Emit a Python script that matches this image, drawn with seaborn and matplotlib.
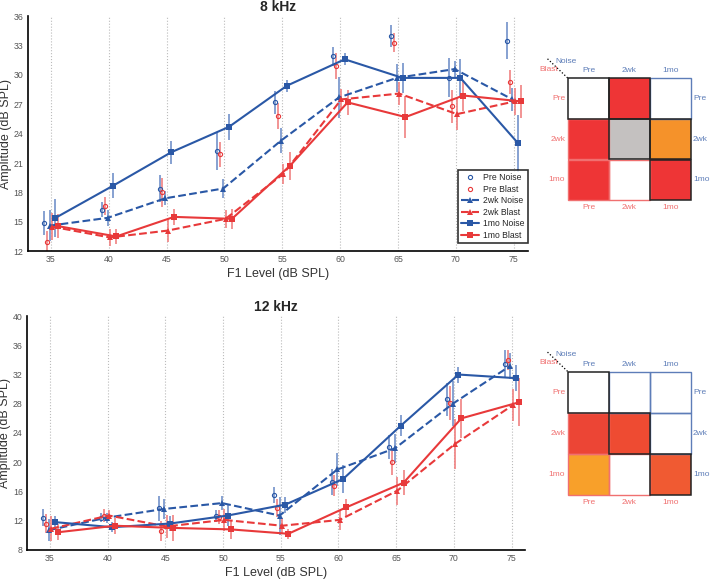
import numpy as np
import pandas as pd
import matplotlib
matplotlib.use("Agg")
import matplotlib.pyplot as plt
import seaborn as sns
from matplotlib.colors import ListedColormap, BoundaryNorm
from matplotlib.patches import Rectangle

# ---------------- data ----------------
levels = [35, 40, 45, 50, 55, 60, 65, 70, 75]
series_names = ["Pre Noise", "Pre Blast", "2wk Noise", "2wk Blast", "1mo Noise", "1mo Blast"]

# 8 kHz
k8_pre_noise = [14.9, 16.25, 18.4, 22.2, 27.2, 31.9, 34.0, 29.7, 33.5]
k8_pre_blast = [12.9, 16.6, 18.0, 21.9, 25.8, 30.9, 33.3, 26.8, 29.3]
k8_2wk_noise = [14.6, 15.4, 17.4, 18.4, 23.3, 27.7, 29.7, 30.6, 27.5]
k8_2wk_blast = [14.5, 13.4, 14.1, 15.3, 19.9, 27.5, 28.1, 26.0, 27.3]
k8_1mo_noise = [15.4, 18.7, 22.1, 24.7, 28.9, 31.6, 29.7, 29.7, 23.0]
k8_1mo_blast = [14.55, 13.5, 15.5, 15.3, 20.7, 27.2, 25.7, 27.9, 27.3]
k8_pre_noise_err = [1.2, 0.75, 1.4, 1.9, 1.15, 1.0, 1.1, 2.0, 1.9]
k8_pre_blast_err = [1.2, 0.9, 1.45, 1.3, 1.3, 1.3, 1.0, 1.7, 1.2]
k8_2wk_noise_err = [1.6, 0.8, 0.7, 1.0, 1.3, 2.1, 1.4, 0.85, 1.2]
k8_2wk_blast_err = [1.4, 0.85, 1.2, 0.9, 1.0, 1.1, 1.2, 1.6, 1.4]
k8_1mo_noise_err = [1.95, 1.3, 1.2, 1.35, 0.6, 0.6, 1.5, 1.95, 2.9]
k8_1mo_blast_err = [1.2, 0.75, 0.85, 1.0, 1.45, 1.3, 2.15, 1.6, 1.7]

# 12 kHz
k12_pre_noise = [12.4, 12.4, 13.7, 12.6, 15.5, 17.3, 22.1, 28.6, 33.5]
k12_pre_blast = [11.6, 12.7, 10.6, 12.5, 13.7, 16.8, 20.0, 28.1, 34.0]
k12_2wk_noise = [10.7, 12.4, 13.6, 14.4, 12.7, 19.0, 21.9, 28.0, 33.2]
k12_2wk_blast = [10.9, 12.7, 11.2, 12.1, 11.3, 12.1, 16.1, 22.5, 27.8]
k12_1mo_noise = [11.8, 11.1, 11.6, 12.7, 14.2, 17.7, 25.0, 32.0, 31.5]
k12_1mo_blast = [10.4, 11.3, 11.0, 10.8, 10.2, 13.8, 17.2, 26.0, 28.2]
k12_pre_noise_err = [1.2, 0.65, 1.7, 0.8, 1.1, 1.8, 1.6, 2.3, 1.9]
k12_pre_blast_err = [1.3, 0.9, 1.4, 0.95, 1.25, 1.4, 1.7, 2.3, 1.4]
k12_2wk_noise_err = [1.5, 0.7, 1.4, 1.0, 2.6, 2.3, 2.0, 3.1, 1.75]
k12_2wk_blast_err = [1.7, 0.8, 1.6, 1.5, 1.0, 1.4, 1.9, 3.4, 2.2]
k12_1mo_noise_err = [0.9, 0.7, 1.0, 1.5, 1.1, 1.9, 1.4, 1.1, 1.8]
k12_1mo_blast_err = [1.1, 1.1, 1.75, 1.3, 0.7, 1.2, 1.7, 2.7, 3.3]

# significance matrices (row = Blast time, col = Noise time)
mat_labels = ["Pre", "2wk", "1mo"]
mat8_codes = [[0, 1, 0],
              [1, 3, 2],
              [1, 0, 1]]
mat8_colors = ["#FFFFFF", "#EE3536", "#F5922A", "#C4C1C0"]
mat12_codes = [[0, 0, 0],
               [1, 2, 0],
               [4, 0, 3]]
mat12_colors = ["#FFFFFF", "#EC4535", "#EE4B32", "#F05A32", "#F8A02A"]

# ---------------- style ----------------
BLUE = "#2A58A6"
RED = "#E8393A"
BLUE_L = "#6F8FC8"
RED_L = "#F07E7E"
sns.set_style("white")
plt.rcParams["font.family"] = ["Liberation Sans", "DejaVu Sans"]

fig = plt.figure(figsize=(7.1, 5.8), dpi=100)
ax8 = fig.add_axes([0.039, 0.567, 0.704, 0.405])
ax12 = fig.add_axes([0.038, 0.052, 0.702, 0.403])
m8 = fig.add_axes([0.800, 0.655, 0.173, 0.210])
m12 = fig.add_axes([0.800, 0.147, 0.173, 0.212])

specs = [
    # name, color, errcolor, linestyle, marker, offset, kind
    ("Pre Noise", BLUE, BLUE_L, "none", "o", -0.6, "pre"),
    ("Pre Blast", RED, RED_L, "none", "o", -0.35, "pre"),
    ("2wk Noise", BLUE, BLUE_L, "--", "^", -0.1, "line"),
    ("2wk Blast", RED, RED_L, "--", "^", 0.1, "line"),
    ("1mo Noise", BLUE, BLUE_L, "-", "s", 0.4, "line"),
    ("1mo Blast", RED, RED_L, "-", "s", 0.65, "line"),
]

def draw_panel(ax, vals, errs, ylim, yticks, title, legend):
    lv = np.array(levels, dtype=float)
    for (name, col, ecol, ls, mk, off, kind), v, e in zip(specs, vals, errs):
        xx = lv + off
        ax.errorbar(xx, v, yerr=e, fmt="none", ecolor=ecol, elinewidth=1.3,
                    capsize=0, alpha=0.9, zorder=2)
        df = pd.DataFrame({"x": xx, "y": v})
        if kind == "pre":
            ax.plot(xx, v, linestyle="none", marker="o", markersize=3.0,
                    markerfacecolor="none", markeredgecolor=col,
                    markeredgewidth=0.8, label=name, zorder=3)
        else:
            sns.lineplot(data=df, x="x", y="y", ax=ax, color=col, linestyle=ls,
                         marker=mk, markersize=4, markeredgewidth=0,
                         linewidth=1.5, label=name, zorder=4, sort=False)
    ax.set_xlim(33.0, 76.2)
    ax.set_ylim(*ylim)
    ax.set_xticks(levels)
    ax.set_yticks(yticks)
    for x in levels:
        ax.axvline(x, color="#BBBBBB", linestyle=":", linewidth=0.8, zorder=0)
    for s in ["top", "right"]:
        ax.spines[s].set_visible(False)
    for s in ["left", "bottom"]:
        ax.spines[s].set_color("black")
        ax.spines[s].set_linewidth(1.2)
    ax.tick_params(direction="in", length=4, width=1, labelsize=6.3,
                   labelcolor="#555555", color="black", pad=3)
    ax.set_xlabel("F1 Level (dB SPL)", fontsize=9, color="#333333", labelpad=3)
    ax.set_ylabel("Amplitude (dB SPL)", fontsize=9, color="#333333", labelpad=1)
    ax.set_title(title, fontsize=10, fontweight="bold", pad=4)
    if legend:
        leg = ax.legend(loc="lower right", fontsize=6.2, frameon=True,
                        fancybox=False, edgecolor="black", borderpad=0.35,
                        handlelength=2.0, handletextpad=0.5, labelspacing=0.3,
                        borderaxespad=0, bbox_to_anchor=(1.0, 0.035))
        leg.get_frame().set_linewidth(1.2)
    else:
        lg = ax.get_legend()
        if lg is not None:
            lg.remove()

draw_panel(ax8,
           [k8_pre_noise, k8_pre_blast, k8_2wk_noise, k8_2wk_blast, k8_1mo_noise, k8_1mo_blast],
           [k8_pre_noise_err, k8_pre_blast_err, k8_2wk_noise_err, k8_2wk_blast_err,
            k8_1mo_noise_err, k8_1mo_blast_err],
           (12, 36), np.arange(12, 37, 3), "8 kHz", True)
draw_panel(ax12,
           [k12_pre_noise, k12_pre_blast, k12_2wk_noise, k12_2wk_blast, k12_1mo_noise, k12_1mo_blast],
           [k12_pre_noise_err, k12_pre_blast_err, k12_2wk_noise_err, k12_2wk_blast_err,
            k12_1mo_noise_err, k12_1mo_blast_err],
           (8, 40), np.arange(8, 41, 4), "12 kHz", False)

MAT_BLUE = "#5D7DB8"
MAT_RED = "#F07070"

def draw_matrix(ax, codes, colors):
    n = len(colors)
    cmap = ListedColormap(colors)
    norm = BoundaryNorm(np.arange(-0.5, n, 1.0), n)
    sns.heatmap(np.array(codes), ax=ax, cmap=cmap, norm=norm, cbar=False,
                xticklabels=False, yticklabels=False, linewidths=0)
    ax.set_xlim(0, 3)
    ax.set_ylim(3, 0)
    for s in ax.spines.values():
        s.set_visible(False)
    black_cells = []
    for r in range(3):
        for c in range(3):
            if r == c or (c > r and codes[r][c] != 0):
                black_cells.append((r, c))
            elif c > r:
                ax.add_patch(Rectangle((c, r), 1, 1, fill=False, edgecolor=MAT_BLUE,
                                       linewidth=1.0, clip_on=False, zorder=3))
            else:
                ax.add_patch(Rectangle((c, r), 1, 1, fill=False, edgecolor=MAT_RED,
                                       linewidth=1.0, clip_on=False, zorder=3))
    for r, c in black_cells:
        ax.add_patch(Rectangle((c, r), 1, 1, fill=False, edgecolor="#222222",
                               linewidth=1.1, clip_on=False, zorder=4))
    fs = 6.0
    for i, lab in enumerate(mat_labels):
        ax.text(i + 0.5, -0.1, lab, color=MAT_BLUE, fontsize=fs, ha="center", va="bottom")
        ax.text(i + 0.5, 3.1, lab, color=MAT_RED, fontsize=fs, ha="center", va="top")
        ax.text(-0.07, i + 0.5, lab, color=MAT_RED, fontsize=fs, ha="right", va="center")
        ax.text(3.05, i + 0.5, lab, color=MAT_BLUE, fontsize=fs, ha="left", va="center")
    ax.text(-0.3, -0.42, "Noise", color=MAT_BLUE, fontsize=fs, ha="left", va="center")
    ax.text(-0.7, -0.22, "Blast", color=MAT_RED, fontsize=fs, ha="left", va="center")
    ax.plot([-0.5, 0.0], [-0.48, 0.0], color="black", linestyle=":", linewidth=0.9,
            clip_on=False)

draw_matrix(m8, mat8_codes, mat8_colors)
draw_matrix(m12, mat12_codes, mat12_colors)

fig.savefig("out.png", dpi=100)
